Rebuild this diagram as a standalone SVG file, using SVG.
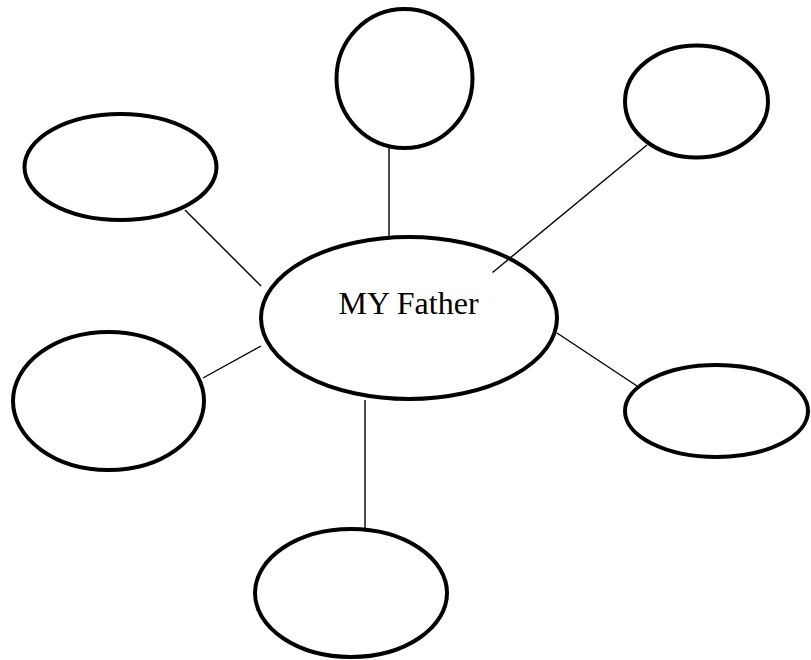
<svg xmlns="http://www.w3.org/2000/svg" width="811" height="660" viewBox="0 0 811 660">
<style>
.node{fill:#fff;stroke:#000;stroke-width:4}
.conn line{stroke:#000;stroke-width:1.4}
.lbl{font-family:"Liberation Serif","Times New Roman",serif;font-size:32px;fill:#000}
</style>
<rect width="811" height="660" fill="#fff"/>
<g id="center"><ellipse class="node" cx="409" cy="318" rx="148" ry="81"/><text class="lbl" x="408.5" y="313.5" text-anchor="middle">MY Father</text></g>
<g id="top"><ellipse class="node" cx="404.5" cy="78.5" rx="68" ry="69.5"/></g>
<g id="topright"><ellipse class="node" cx="696.5" cy="101.5" rx="71.5" ry="56"/></g>
<g id="lefttop"><ellipse class="node" cx="120.5" cy="167" rx="96" ry="53"/></g>
<g id="leftbottom"><ellipse class="node" cx="108.5" cy="401" rx="95.5" ry="69"/></g>
<g id="rightbottom"><ellipse class="node" cx="716.5" cy="411" rx="91.5" ry="46"/></g>
<g id="bottom"><ellipse class="node" cx="351" cy="593" rx="96" ry="64"/></g>
<g id="connectors" class="conn">
<line x1="389" y1="148" x2="389" y2="236"/>
<line x1="647" y1="145" x2="492.5" y2="272.5"/>
<line x1="185" y1="210" x2="261" y2="286"/>
<line x1="203" y1="378" x2="261" y2="346"/>
<line x1="557" y1="333" x2="637" y2="386"/>
<line x1="365" y1="400" x2="365" y2="529"/>
</g>
</svg>
